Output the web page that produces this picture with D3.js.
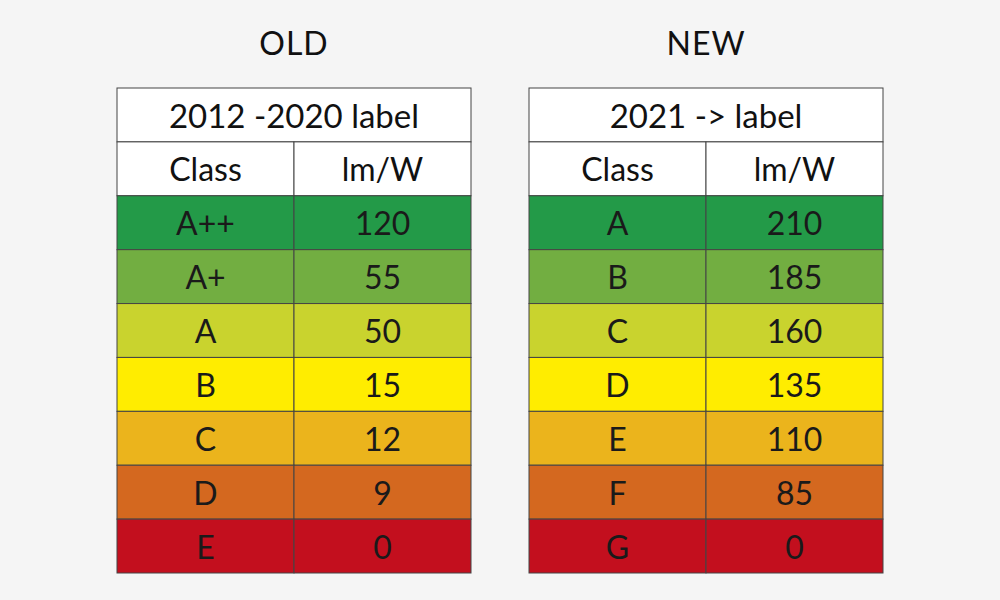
<!DOCTYPE html>
<html><head><meta charset="utf-8">
<script src="https://cdn.jsdelivr.net/npm/d3@7"></script>
<style>body{margin:0;background:#f5f5f5;}svg{display:block;}</style>
</head><body>
<script>
const titles = ["OLD", "NEW"];
const labels = ["2012 -2020 label", "2021 -> label"];
const colHeaders = ["Class", "lm/W"];
const oldClasses = ["A++", "A+", "A", "B", "C", "D", "E"];
const oldValues = [120, 55, 50, 15, 12, 9, 0];
const newClasses = ["A", "B", "C", "D", "E", "F", "G"];
const newValues = [210, 185, 160, 135, 110, 85, 0];
const rowColors = ["#239a48", "#72ae41", "#c9d32e", "#ffed00", "#ebb41c", "#d4681f", "#c30f1e"];

const W = 1000, H = 600;
const svg = d3.select("body").append("svg").attr("width", W).attr("height", H);
svg.append("rect").attr("width", W).attr("height", H).attr("fill", "#f5f5f5");
const font = "Lato, 'Open Sans', sans-serif";

const tables = [
  {x0: 117, x1: 471, classes: oldClasses, values: oldValues},
  {x0: 529, x1: 883, classes: newClasses, values: newValues}
];
const rowsAll = ["label", "head", 0, 1, 2, 3, 4, 5, 6];
const y = d3.scaleBand().domain(rowsAll).range([88, 573]).padding(0);
const yLabel = d3.scaleLinear().domain([0, 1]).range([88, 144]);

tables.forEach((t, ti) => {
  const g = svg.append("g");
  const x = d3.scaleBand().domain([0, 1]).range([t.x0, t.x1]);
  const cx = (t.x0 + t.x1) / 2;
  g.append("text").attr("x", cx).attr("y", 42).attr("text-anchor", "middle")
    .attr("dominant-baseline", "central").attr("font-family", font)
    .attr("font-size", 32).attr("fill", "#111").attr("letter-spacing", 1).text(titles[ti]);
  // label row
  const lh = y.bandwidth();
  g.append("rect").attr("x", t.x0).attr("y", y("label")).attr("width", t.x1 - t.x0)
    .attr("height", lh).attr("fill", "#fff").attr("stroke", "#444").attr("stroke-width", 1);
  g.append("text").attr("x", cx).attr("y", y("label") + lh / 2).attr("text-anchor", "middle")
    .attr("dominant-baseline", "central").attr("font-family", font).attr("font-size", 33)
    .attr("fill", "#111").text(labels[ti]);
  // header
  colHeaders.forEach((h, ci) => {
    g.append("rect").attr("x", x(ci)).attr("y", y("head")).attr("width", x.bandwidth())
      .attr("height", lh).attr("fill", "#fff").attr("stroke", "#444");
    g.append("text").attr("x", x(ci) + x.bandwidth() / 2).attr("y", y("head") + lh / 2)
      .attr("text-anchor", "middle").attr("dominant-baseline", "central")
      .attr("font-family", font).attr("font-size", 32).attr("fill", "#111").text(h);
  });
  t.classes.forEach((c, i) => {
    [c, t.values[i]].forEach((v, ci) => {
      g.append("rect").attr("x", x(ci)).attr("y", y(i)).attr("width", x.bandwidth())
        .attr("height", lh).attr("fill", rowColors[i]).attr("stroke", "#444");
      g.append("text").attr("x", x(ci) + x.bandwidth() / 2).attr("y", y(i) + lh / 2)
        .attr("text-anchor", "middle").attr("dominant-baseline", "central")
        .attr("font-family", font).attr("font-size", 32).attr("fill", "#1a1a1a").text(v);
    });
  });
});
</script>
</body></html>
